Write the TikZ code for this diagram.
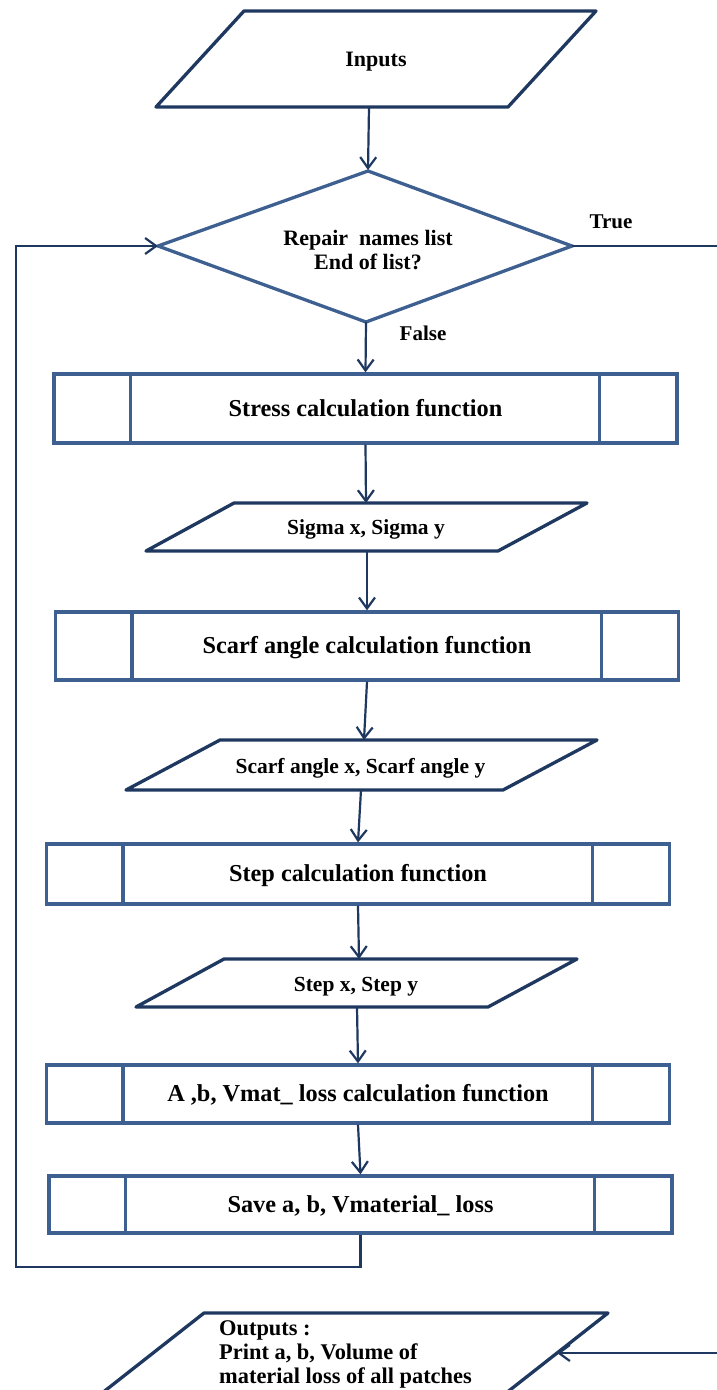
\documentclass[tikz,border=0pt]{standalone}
\usepackage{fontspec}
\setmainfont{Liberation Serif}
\usetikzlibrary{arrows.meta}
\definecolor{steel}{RGB}{62,96,145}
\definecolor{navy}{RGB}{31,56,96}
\begin{document}
\begin{tikzpicture}[x=1pt,y=-1pt,
  fbox/.style={draw=steel,line width=3.3pt,minimum width=623pt,inner sep=0pt,
    text depth=1.5pt,font=\fontsize{24.3}{29}\selectfont\bfseries},
  inner/.style={draw=steel,line width=3.3pt},
  conn/.style={draw=navy,line width=2.2pt,-{Straight Barb[length=11pt,width=16pt]}},
  plain/.style={draw=navy,line width=2.2pt},
  para/.style={draw=navy,line width=3.3pt,line join=round},
  diam/.style={draw=steel,line width=3.3pt,line join=miter},
  ptext/.style={font=\fontsize{21.5}{26}\selectfont\bfseries,inner sep=0pt},
  dtext/.style={font=\fontsize{22}{24}\selectfont\bfseries,inner sep=0pt,align=center},
  lbl/.style={font=\fontsize{21}{25}\selectfont\bfseries,inner sep=0pt},
  otext/.style={font=\fontsize{22.4}{24}\selectfont\bfseries,inner sep=0pt,align=left}
]
\useasboundingbox (0,0) rectangle (717,1390);
\fill[white] (0,0) rectangle (717,1390);
\clip (0,0) rectangle (717,1390);

% Inputs
\draw[para] (244,11) -- (596,11) -- (508,107) -- (156,107) -- cycle;
\node[dtext] (inputs) at (376,62) {Inputs};
\coordinate (inB) at (369,107);

% Decision
\coordinate (decT) at (368,171);
\coordinate (decR) at (572,246);
\coordinate (decB) at (366,322);
\coordinate (decL) at (158,246);
\draw[diam] (decT) -- (decR) -- (decB) -- (decL) -- cycle;
\node[dtext] (dec) at (368,250) {Repair\ \ names list\\End of list?};
\node[lbl] (truel) at (611,222) {True};
\node[lbl] (falsel) at (423,333) {False};

% Boxes
\node[fbox,minimum height=69pt] (stress) at (365.5,408.5) {Stress calculation function};
\node[fbox,minimum height=68pt] (scarfbox) at (367,646) {Scarf angle calculation function};
\node[fbox,minimum height=60pt] (stepbox) at (358,874) {Step calculation function};
\node[fbox,minimum height=58pt] (abbox) at (358,1094) {A ,b, Vmat\_ loss calculation function};
\node[fbox,minimum height=57pt] (save) at (360.5,1204.5) {Save a, b, Vmaterial\_ loss};
\foreach \b in {stress,scarfbox,stepbox,abbox,save}{
  \draw[inner] ([xshift=78pt]\b.north west) -- ([xshift=78pt]\b.south west);
  \draw[inner] ([xshift=-79pt]\b.north east) -- ([xshift=-79pt]\b.south east);
}

% Sigma parallelogram
\draw[para] (234,503) -- (587,503) -- (498,551) -- (146,551) -- cycle;
\node[ptext] (sigma) at (366,529) {Sigma x, Sigma y};
\coordinate (sigT) at (366,503);
\coordinate (sigB) at (367,551);

% Scarf angle parallelogram
\draw[para] (220,740) -- (597,740) -- (503,790) -- (126,790) -- cycle;
\node[ptext] (scarf) at (360.5,768) {Scarf angle x, Scarf angle y};
\coordinate (scT) at (364,740);
\coordinate (scB) at (361,790);

% Step parallelogram
\draw[para] (224,959) -- (577,959) -- (488,1007) -- (136,1007) -- cycle;
\node[ptext] (stepxy) at (356,987) {Step x, Step y};
\coordinate (stT) at (359,959);
\coordinate (stB) at (357,1007);

% Outputs parallelogram
\draw[para] (204,1313) -- (608,1313) -- (501,1397) -- (97,1397) -- cycle;
\node[otext,anchor=west] (outputs) at (219,1354) {Outputs :\\Print a, b, Volume of\\material loss of all patches};
\coordinate (outR) at (557,1353);
\coordinate (outS) at (720,1353);

% Connectors
\draw[conn] (inB) -- (368,170);
\draw[conn] (decB) -- (stress.north);
\draw[conn] (stress.south) -- (sigT);
\draw[conn] (sigB) -- (scarfbox.north);
\draw[conn] (scarfbox.south) -- (scT);
\draw[conn] (scB) -- (stepbox.north);
\draw[conn] (stepbox.south) -- (stT);
\draw[conn] (stB) -- (abbox.north);
\draw[conn] (abbox.south) -- (save.north);

% Loop back
\coordinate (lpA) at (360.5,1267);
\coordinate (lpB) at (16,1267);
\coordinate (lpC) at (16,246);
\draw[conn,line join=miter] (save.south) -- (lpA) -- (lpB) -- (lpC) -- (decL);

% True branch and output
\coordinate (trueE) at (720,246);
\draw[plain] (decR) -- (trueE);
\draw[conn] (outS) -- (outR);
\end{tikzpicture}
\end{document}
